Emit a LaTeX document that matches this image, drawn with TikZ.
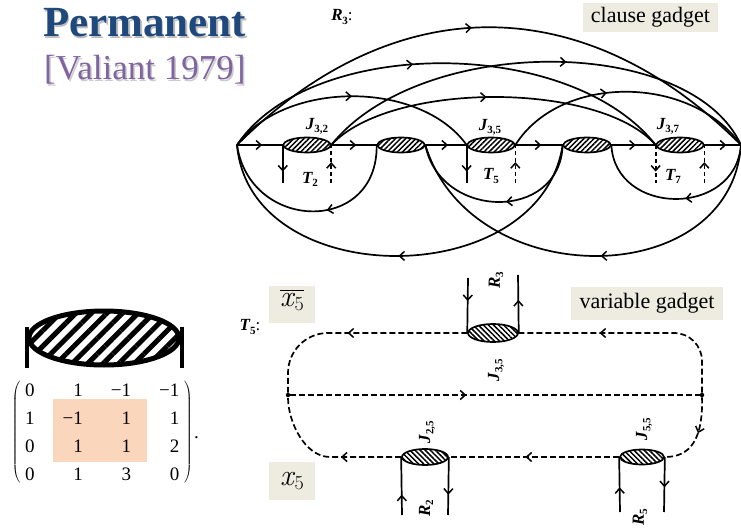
\documentclass[tikz,border=0pt]{standalone}
\usepackage{fontspec}
\setmainfont{Liberation Serif}
\newfontfamily\lmfont{Latin Modern Roman}
\usetikzlibrary{arrows.meta,calc,decorations.markings,matrix,patterns.meta,shapes.geometric}

\definecolor{titleblue}{RGB}{31,73,125}
\definecolor{citepurple}{RGB}{128,100,162}
\definecolor{tagbg}{RGB}{238,236,225}
\definecolor{hlpeach}{RGB}{250,214,188}

\newcommand{\lab}[2]{\textbf{\textit{#1}}\kern-0.5pt\raisebox{-0.4ex}{\fontsize{11}{11}\selectfont\bfseries #2}}
\newcommand{\xv}{{\lmfont\itshape x}\kern1pt\raisebox{-0.25ex}{\lmfont\fontsize{20}{22}\selectfont 5}}

\tikzset{
  arr/.style={postaction={decorate,decoration={markings,
      mark=at position #1 with {\arrow{Straight Barb[length=5pt,width=9pt,line width=1.5pt]}}}}},
  wire/.style={line width=1.7pt},
  dsh/.style={wire,dash pattern=on 6pt off 3pt},
  tdsh/.style={wire,dash pattern=on 4pt off 3pt},
  junc/.style={ellipse,draw,line width=1.7pt,inner sep=0pt,minimum width=47pt,minimum height=15pt,
      pattern={Lines[angle=45,distance=3.6pt,line width=1.5pt]}},
  vjunc/.style={junc,pattern={Lines[angle=-45,distance=3.6pt,line width=1.5pt]}},
  dot/.style={circle,fill,inner sep=0pt,minimum size=4.5pt},
  tag/.style={fill=tagbg,inner sep=0pt,font=\fontsize{22}{24}\selectfont},
  glab/.style={font=\fontsize{17}{19}\selectfont,inner sep=1pt},
}

\begin{document}
\begin{tikzpicture}[x=1pt,y=-1pt]
\useasboundingbox (0,0) rectangle (741,529);

% title
\node[anchor=base west,inner sep=0pt,font=\fontsize{43}{46}\selectfont\bfseries,text=black!25] (permshadow) at (44.5,38.5) {Permanent};
\node[anchor=base west,inner sep=0pt,font=\fontsize{43}{46}\selectfont\bfseries,text=titleblue] (perm) at (43,37) {Permanent};
\node[anchor=base west,inner sep=0pt,font=\fontsize{35}{38}\selectfont,text=black!20] (citeshadow) at (45.5,81.5) {[Valiant 1979]};
\node[anchor=base west,inner sep=0pt,font=\fontsize{35}{38}\selectfont,text=citepurple] (cite) at (44,80) {[Valiant 1979]};

% clause gadget
\node[tag,minimum width=135pt,minimum height=29pt] (ctag) at (650.5,17.5) {clause gadget};
\node[glab] (lr3c) at (342,17) {\lab{R}{3}:};

\coordinate (L) at (237,145);
\coordinate (R) at (741,145);
\node[junc] (j32) at (307,145) {};
\node[junc] (u1) at (401,145) {};
\node[junc] (j35) at (491,145) {};
\node[junc] (u2) at (587,145) {};
\node[junc] (j37) at (680,145) {};

\node[glab] (lj32) at (317,126) {\lab{J}{3,2}};
\node[glab] (lj35c) at (490,127) {\lab{J}{3,5}};
\node[glab] (lj37) at (668,126) {\lab{J}{3,7}};
\node[glab] (lt2) at (310,179) {\lab{T}{2}};
\node[glab] (lt5c) at (491,176) {\lab{T}{5}};
\node[glab] (lt7) at (673,176) {\lab{T}{7}};

% straight run
\draw[wire,arr=.55] (L) -- (j32.west);
\draw[wire,arr=.55] (j32.east) -- (u1.west);
\draw[wire,arr=.55] (u1.east) -- (j35.west);
\draw[wire,arr=.55] (j35.east) -- (u2.west);
\draw[wire,arr=.55] (u2.east) -- (j37.west);
\draw[wire,arr=.6] (j37.east) -- (R);

% upper arcs
\draw[wire,arr=.47] (L) .. controls (394,-12) and (584,-12) .. (R);
\draw[wire,arr=.43] (L) .. controls (310,36) and (570,36) .. (j37.west);
\draw[wire,arr=.5] (L) .. controls (285,80) and (420,80) .. (j35.west);
\draw[wire,arr=.56] (j32.east) .. controls (420,34) and (690,34) .. (R);
\draw[wire,arr=.48] (j32.east) .. controls (390,81) and (600,81) .. (j37.west);
\draw[wire,arr=.42] (j35.east) .. controls (560,74) and (690,74) .. (R);

% lower arcs
\draw[wire,arr=.42] (u1.west) .. controls (378,235) and (250,232) .. (L);
\draw[wire,arr=.5] (u2.west) .. controls (540,293) and (250,293) .. (L);
\draw[wire,arr=.45] (u2.west) .. controls (560,222) and (440,220) .. (u1.east);
\draw[wire,arr=.47] (R) .. controls (730,293) and (470,293) .. (u1.east);
\draw[wire,arr=.45] (R) .. controls (735,218) and (615,216) .. (u2.east);

% T terminals
\draw[wire,arr=.7] (j32.west) -- ++(0,38) coordinate (t2o);
\coordinate (t2i) at ($(j32.east)+(0,38)$);
\draw[tdsh,arr=.55] (t2i) -- (j32.east);
\draw[wire,arr=.7] (j35.west) -- ++(0,38) coordinate (t5o);
\coordinate (t5i) at ($(j35.east)+(0,38)$);
\draw[tdsh,arr=.55] (t5i) -- (j35.east);
\draw[tdsh,arr=.7] (j37.west) -- ++(0,38) coordinate (t7o);
\coordinate (t7i) at ($(j37.east)+(0,38)$);
\draw[tdsh,arr=.55] (t7i) -- (j37.east);

% variable gadget
\node[tag,minimum width=152pt,minimum height=33pt] (vtag) at (647,303.5) {variable gadget};
\node[tag,minimum width=46pt,minimum height=37pt,font=\fontsize{30}{32}\selectfont] (xbar) at (292,304.5) {};
\node[inner sep=0pt,font=\fontsize{30}{32}\selectfont] (xbarlab) at (292,302) {\xv};
\draw[line width=1pt] ([yshift=3pt]xbarlab.north west) -- ([yshift=3pt]xbarlab.north east);
\node[tag,minimum width=46pt,minimum height=38pt,font=\fontsize{30}{32}\selectfont] (xpos) at (292,481) {\xv};
\node[glab] (lt5) at (250,327) {\lab{T}{5}:};

\node[dot] (VL) at (288,395) {};
\node[dot] (VR) at (702,395) {};
\node[vjunc,minimum width=50pt,minimum height=18pt] (vj35) at (493,333) {};
\node[vjunc,minimum width=46pt,minimum height=16pt] (vj25) at (425,457) {};
\node[vjunc,minimum width=44pt,minimum height=15pt] (vj55) at (642,457) {};

\draw[dsh,arr=.65,rounded corners=28pt] (VR) |- (vj35.east);
\draw[dsh,arr=.54,rounded corners=40pt] (vj35.west) -| (VL);
\draw[dsh,arr=.43] (VL) -- (VR);
\draw[dsh,arr=.45] (VR) .. controls (703,440) and (690,457) .. (vj55.east);
\draw[dsh,arr=.55] (vj55.west) -- (vj25.east);
\draw[dsh,arr=.4] (vj25.west) -- (330,457) .. controls (305,457) and (288,422) .. (VL);

\coordinate (r3in) at (468,278);
\coordinate (r3out) at (518,275);
\draw[wire,arr=.42] (r3in) -- (vj35.west);
\draw[wire,arr=.57] (vj35.east) -- (r3out);
\coordinate (r2in) at (402,515);
\coordinate (r2out) at (448,515);
\draw[wire,arr=.35] (r2in) -- (vj25.west);
\draw[wire,arr=.65] (vj25.east) -- (r2out);
\coordinate (r5in) at (620,512);
\coordinate (r5out) at (664,512);
\draw[wire,arr=.45] (r5in) -- (vj55.west);
\draw[wire,arr=.55] (vj55.east) -- (r5out);

\node[glab,rotate=90] (lr3) at (496,280) {\lab{R}{3}};
\node[glab,rotate=90] (lj35) at (496,370) {\lab{J}{3,5}};
\node[glab,rotate=90] (lj25) at (427,432) {\lab{J}{2,5}};
\node[glab,rotate=90] (lr2) at (426,508) {\lab{R}{2}};
\node[glab,rotate=90] (lj55) at (644,429) {\lab{J}{5,5}};
\node[glab,rotate=90] (lr5) at (640,517) {\lab{R}{5}};

% junction and its matrix
\node[junc,minimum width=150pt,minimum height=54pt,line width=5pt,
  pattern={Lines[angle=45,distance=11pt,line width=5pt]}] (bigj) at (104,338) {};
\draw[line width=4pt] ([yshift=11pt]bigj.west) -- ([yshift=-30pt]bigj.west);
\draw[line width=4pt] ([yshift=11pt]bigj.east) -- ([yshift=-30pt]bigj.east);

\fill[hlpeach] (53,399) rectangle (147,462);
\matrix (M) [matrix of nodes,
  nodes={anchor=base east,inner sep=0pt,text height=13.5pt,text depth=0pt,font=\fontsize{19}{21}\selectfont},
  column sep=28pt,row sep=14.8pt,left delimiter=(,right delimiter=)] at (102.3,431.75) {
  0 & 1 & −1 & −1 \\
  1 & −1 & 1 & 1 \\
  0 & 1 & 1 & 2 \\
  0 & 1 & 3 & 0 \\
};
\node[anchor=base west,inner sep=0pt,font=\fontsize{19}{21}\selectfont] (mdot) at (194,438) {.};

\end{tikzpicture}
\end{document}
